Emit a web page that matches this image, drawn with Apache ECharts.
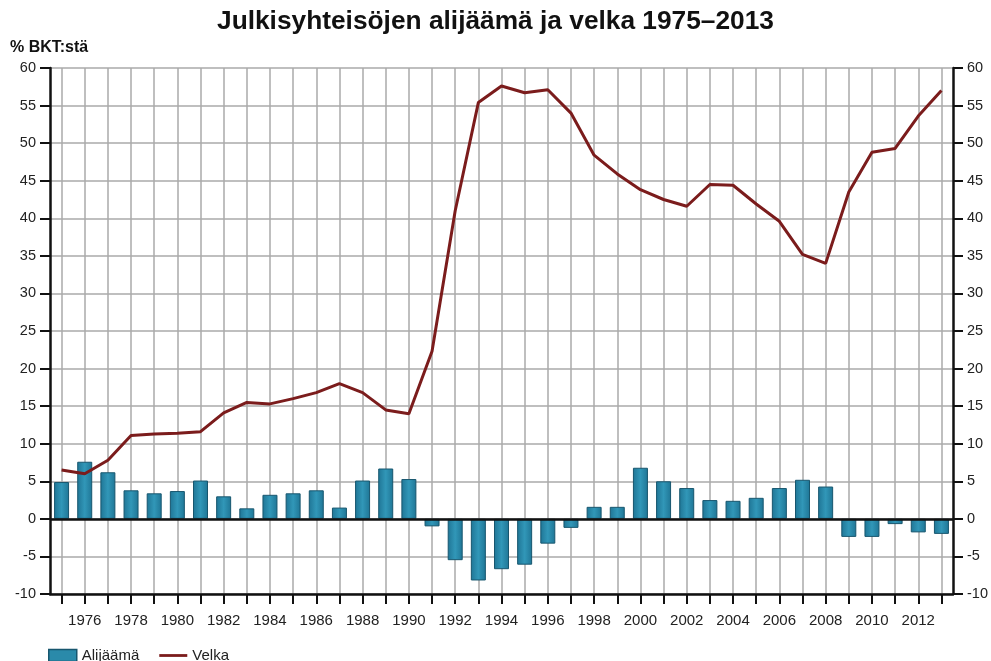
<!DOCTYPE html>
<html><head><meta charset="utf-8">
<script src="https://cdn.jsdelivr.net/npm/echarts@6/dist/echarts.min.js"></script>
<style>html,body{margin:0;padding:0;background:#fff}#c{width:991px;height:661px}</style>
</head><body><div id="c"></div>
<script>
const years = [];
for (let y = 1975; y <= 2013; y++) years.push(String(y));
const alijaama = [4.9,7.6,6.2,3.8,3.4,3.7,5.1,3.0,1.4,3.2,3.4,3.8,1.5,5.1,6.7,5.3,-1.0,-5.5,-8.2,-6.7,-6.1,-3.3,-1.2,1.6,1.6,6.8,5.0,4.1,2.5,2.4,2.8,4.1,5.2,4.3,-2.4,-2.4,-0.7,-1.8,-2.0];
const velka = [6.5,6.0,7.8,11.1,11.3,11.4,11.6,14.1,15.5,15.3,16.0,16.8,18.0,16.8,14.5,14.0,22.3,41.0,55.4,57.6,56.7,57.1,54.0,48.4,45.9,43.8,42.5,41.6,44.5,44.4,41.9,39.6,35.2,34.0,43.5,48.8,49.3,53.6,57.0];
const titleText = 'Julkisyhteisöjen alijäämä ja velka 1975–2013';
const yName = '% BKT:stä';

const chart = echarts.init(document.getElementById('c'), null, {renderer: 'canvas'});
const fontFam = '"Liberation Sans", Arial, sans-serif';
const yAxisCommon = {
  type: 'value', min: -10, max: 60, interval: 5,
  axisLine: {show: true, lineStyle: {color: '#111', width: 2.5}},
  axisTick: {show: true, length: 10, lineStyle: {color: '#111', width: 2}},
  axisLabel: {color: '#222', fontSize: 14.5, fontFamily: fontFam, margin: 14},
};
const barColor = new echarts.graphic.LinearGradient(0, 0, 1, 0, [
  {offset: 0, color: '#1f7595'}, {offset: 0.5, color: '#3197b8'}, {offset: 1, color: '#1f7595'}
]);
chart.setOption({
  animation: false,
  backgroundColor: '#fff',
  title: {text: titleText, left: 'center', top: 4,
    textStyle: {fontSize: 26.3, fontWeight: 'bold', color: '#111', fontFamily: fontFam}},
  grid: {left: 50, right: 38, top: 68, bottom: 67},
  legend: {
    left: 43, top: 643, itemWidth: 28, itemHeight: 12, itemGap: 20,
    textStyle: {fontSize: 15, color: '#222', fontFamily: fontFam},
    data: [
      {name: 'Alijäämä', icon: 'rect', itemStyle: {color: '#2a8aaa', borderColor: '#17566e', borderWidth: 1.5}},
      {name: 'Velka', icon: 'path://M0,0 H30 V3 H0 Z', itemStyle: {color: '#7b1c1c'}}
    ]
  },
  xAxis: {
    type: 'category', data: years, boundaryGap: true,
    axisLine: {show: true, onZero: false, lineStyle: {color: '#111', width: 2.5}},
    axisTick: {show: true, alignWithLabel: true, interval: 0, length: 10, lineStyle: {color: '#111', width: 2}},
    axisLabel: {interval: function (i, v) { return (+v) % 2 === 0; }, color: '#222', fontSize: 15, fontFamily: fontFam, margin: 19},
    splitLine: {show: true, alignWithLabel: true, interval: 0, lineStyle: {color: '#aaa', width: 1.5}}
  },
  yAxis: [
    Object.assign({}, yAxisCommon, {
      position: 'left', name: yName, nameLocation: 'end', nameGap: 12,
      nameTextStyle: {fontSize: 16, fontWeight: 'bold', color: '#111', fontFamily: fontFam, align: 'left', padding: [0, 0, 0, -40]},
      splitLine: {show: true, lineStyle: {color: '#aaa', width: 1.5}}
    }),
    Object.assign({}, yAxisCommon, {position: 'right', splitLine: {show: false}})
  ],
  series: [
    {
      name: 'Alijäämä', type: 'bar', data: alijaama, barWidth: 15,
      itemStyle: {color: barColor, borderColor: '#17566e', borderWidth: 1},
      markLine: {silent: true, symbol: 'none', label: {show: false},
        lineStyle: {color: '#111', width: 2.5, type: 'solid'}, data: [{yAxis: 0}]},
      z: 3
    },
    {
      name: 'Velka', type: 'line', data: velka, symbol: 'none',
      lineStyle: {color: '#7b1c1c', width: 3}, itemStyle: {color: '#7b1c1c'}, z: 4
    }
  ]
});
</script></body></html>
